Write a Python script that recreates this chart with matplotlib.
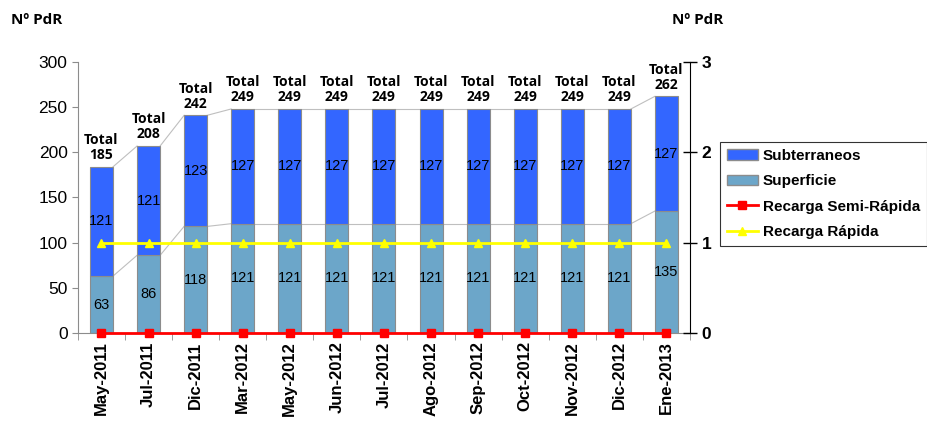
import matplotlib.pyplot as plt
import numpy as np
from matplotlib.patches import Patch

meses = ["May-2011", "Jul-2011", "Dic-2011", "Mar-2012", "May-2012", "Jun-2012",
         "Jul-2012", "Ago-2012", "Sep-2012", "Oct-2012", "Nov-2012", "Dic-2012", "Ene-2013"]
superficie = [63, 86, 118, 121, 121, 121, 121, 121, 121, 121, 121, 121, 135]
subterraneos = [121, 121, 123, 127, 127, 127, 127, 127, 127, 127, 127, 127, 127]
totales = [185, 208, 242, 249, 249, 249, 249, 249, 249, 249, 249, 249, 262]
semi_rapida = [0] * 13
rapida = [1] * 13

plt.rcParams['font.family'] = ['Liberation Sans', 'DejaVu Sans']

fig = plt.figure(figsize=(9.28, 4.30), dpi=100)
ax = fig.add_axes([0.084, 0.2256, 0.6595, 0.6302])
ax2 = ax.twinx()

x = np.arange(len(meses))
w = 0.49
col_sub = '#3366FF'
col_sup = '#6CA6C9'

ax.bar(x, superficie, w, color=col_sup, edgecolor='#8c8c8c', linewidth=0.8, zorder=2)
ax.bar(x, subterraneos, w, bottom=superficie, color=col_sub, edgecolor='#8c8c8c',
       linewidth=0.8, zorder=2)

# lineas de union entre barras
tops = np.array(superficie) + np.array(subterraneos)
for i in range(len(x) - 1):
    ax.plot([x[i] + w / 2, x[i + 1] - w / 2], [tops[i], tops[i + 1]],
            color='#bfbfbf', lw=0.8, zorder=1)
    ax.plot([x[i] + w / 2, x[i + 1] - w / 2], [superficie[i], superficie[i + 1]],
            color='#bfbfbf', lw=0.8, zorder=1)

for i in range(len(x)):
    ax.text(x[i], superficie[i] / 2, str(superficie[i]), ha='center', va='center',
            fontsize=10.5, zorder=4)
    ax.text(x[i], superficie[i] + subterraneos[i] / 2, str(subterraneos[i]),
            ha='center', va='center', fontsize=10.5, zorder=4)
    ax.text(x[i], tops[i] + 5, "Total\n" + str(totales[i]), ha='center', va='bottom',
            fontsize=10, fontweight='bold', family=['Open Sans', 'DejaVu Sans'],
            linespacing=1.1)

ax.set_xlim(-0.5, len(x) - 0.5)
ax.set_ylim(0, 300)
ax.set_yticks(range(0, 301, 50))
ax.tick_params(axis='y', labelsize=12.5, color='#8c8c8c', length=4)
ax.set_xticks(x)
ax.set_xticklabels(meses, rotation=90, fontsize=12, fontweight='bold')
ax.tick_params(axis='x', length=0, pad=6)
ax.set_xticks(np.arange(-0.5, len(x), 1), minor=True)
ax.tick_params(axis='x', which='minor', length=5, color='#8c8c8c')
for s in ['top', 'right']:
    ax.spines[s].set_visible(False)
ax.spines['left'].set_color('#8c8c8c')
ax.spines['bottom'].set_color('#8c8c8c')

l1, = ax2.plot(x, semi_rapida, color='#FF0000', lw=2, marker='s', markersize=6,
               clip_on=False, zorder=5)
l2, = ax2.plot(x, rapida, color='#FFFF00', lw=2, marker='^', markersize=6,
               clip_on=False, zorder=5)
ax2.set_ylim(0, 3)
ax2.set_yticks([0, 1, 2, 3])
ax2.tick_params(axis='y', labelsize=12.5, direction='inout', length=10, width=1)
for t in ax2.get_yticklabels():
    t.set_fontweight('bold')
for s in ['top', 'left', 'bottom']:
    ax2.spines[s].set_visible(False)
ax2.spines['right'].set_color('black')

handles = [Patch(facecolor=col_sub, edgecolor='#8c8c8c'),
           Patch(facecolor=col_sup, edgecolor='#8c8c8c'), l1, l2]
labels = ["Subterraneos", "Superficie", "Recarga Semi-Rápida", "Recarga Rápida"]
leg = fig.legend(handles, labels, loc='upper right', bbox_to_anchor=(0.999, 0.67),
                 prop={'weight': 'bold', 'size': 11}, frameon=True, fancybox=False,
                 edgecolor='black', handlelength=2.0, labelspacing=0.75,
                 borderpad=0.45, handletextpad=0.35, borderaxespad=0)
leg.get_frame().set_linewidth(0.8)

fig.text(0.012, 0.945, "Nº PdR", fontsize=11, fontweight='bold',
         family=['Open Sans', 'DejaVu Sans'])
fig.text(0.724, 0.945, "Nº PdR", fontsize=11, fontweight='bold',
         family=['Open Sans', 'DejaVu Sans'])

fig.savefig('out.png', dpi=100)
